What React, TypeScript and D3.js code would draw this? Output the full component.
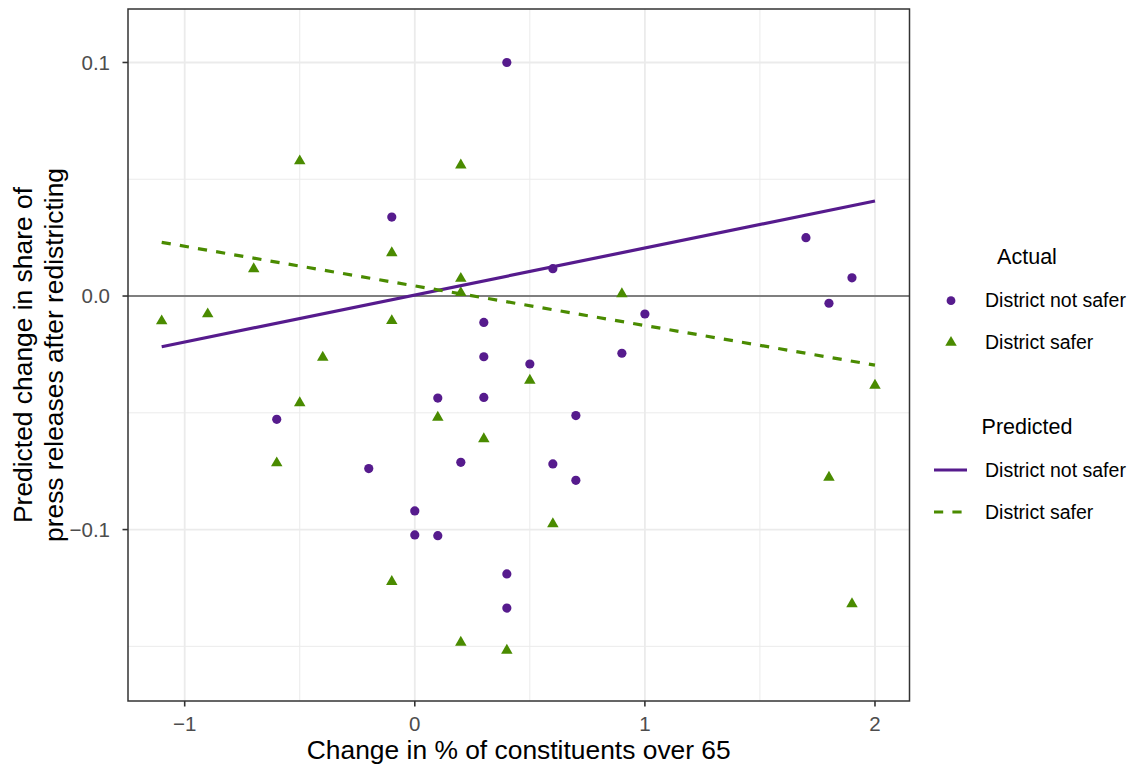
import React from 'react';
import * as d3 from 'd3';

// Observed districts whose seat did not become safer
const notSaferX = [0.4, -0.1, 0.3, 0.3, 0.6, 1.7, 1.9, 1.8, 1.0, 0.9, 0.5, 0.1, 0.3, 0.7, 0.2, 0.6, 0.7, 0.0, 0.0, 0.1, 0.4, 0.4, -0.6, -0.2];
const notSaferY = [0.1, 0.0338, -0.0113, -0.026, 0.0117, 0.025, 0.0078, -0.0031, -0.0077, -0.0245, -0.0291, -0.0437, -0.0434, -0.0512, -0.0712, -0.0719, -0.0789, -0.092, -0.1023, -0.1026, -0.119, -0.1336, -0.0528, -0.0739];

// Observed districts whose seat became safer
const saferX = [-0.5, 0.2, -0.1, -0.7, 0.2, 0.2, -1.1, -0.9, -0.1, -0.4, 0.9, -0.5, -0.6, -0.1, 0.1, 0.3, 0.2, 0.4, 0.5, 0.6, 2.0, 1.8, 1.9];
const saferY = [0.0578, 0.056, 0.0185, 0.0116, 0.0075, 0.0014, -0.0107, -0.0077, -0.0106, -0.0263, 0.0009, -0.0458, -0.0715, -0.1223, -0.052, -0.0612, -0.1483, -0.1517, -0.0361, -0.0976, -0.0383, -0.0777, -0.1318];

// Fitted predictions at the ends of the observed range
const predX = [-1.1, 2.0];
const predNotSaferY = [-0.0217, 0.0407];
const predSaferY = [0.023, -0.0296];

const xTicks = [-1, 0, 1, 2];
const xMinor = [-0.5, 0.5, 1.5];
const yTicks = [-0.1, 0.0, 0.1];
const yMinor = [-0.15, -0.05, 0.05];

const groupLabels = ['District not safer', 'District safer'];

const PURPLE = '#561B8D';
const GREEN = '#4A8B00';
const FONT = '"Liberation Sans", Arial, Helvetica, sans-serif';

const W = 1132;
const H = 771;
const panel = { left: 128, right: 909.5, top: 9, bottom: 701 };

const fmtX = (v: number) => (v < 0 ? '\u2212' + Math.abs(v) : String(v));
const fmtY = (v: number) => (v < 0 ? '\u2212' + Math.abs(v).toFixed(1) : v.toFixed(1));

export default function App() {
  const x = d3.scaleLinear().domain([-1.2464, 2.15]).range([panel.left, panel.right]);
  const y = d3.scaleLinear().domain([-0.1734, 0.1229]).range([panel.bottom, panel.top]);

  const tri = d3.symbol(d3.symbolTriangle, 57)() as string;
  const line = d3
    .line<[number, number]>()
    .x((d) => x(d[0]))
    .y((d) => y(d[1]));

  const notSaferLine = line(predX.map((v, i) => [v, predNotSaferY[i]] as [number, number])) as string;
  const saferLine = line(predX.map((v, i) => [v, predSaferY[i]] as [number, number])) as string;

  const pw = panel.right - panel.left;
  const ph = panel.bottom - panel.top;
  const cx = (panel.left + panel.right) / 2;
  const cy = (panel.top + panel.bottom) / 2;

  const legX = 951;
  const legTextX = 985;

  return (
    <svg
      width={W}
      height={H}
      viewBox={`0 0 ${W} ${H}`}
      style={{ position: 'absolute', left: 0, top: 0, background: '#fff' }}
      fontFamily={FONT}
    >
      <rect x={0} y={0} width={W} height={H} fill="#fff" />
      <defs>
        <clipPath id="panel-clip">
          <rect x={panel.left} y={panel.top} width={pw} height={ph} />
        </clipPath>
      </defs>

      {/* grid */}
      <g stroke="#EBEBEB" fill="none">
        {xMinor.map((v) => (
          <line key={'xm' + v} x1={x(v)} x2={x(v)} y1={panel.top} y2={panel.bottom} strokeWidth={1} />
        ))}
        {yMinor.map((v) => (
          <line key={'ym' + v} x1={panel.left} x2={panel.right} y1={y(v)} y2={y(v)} strokeWidth={1} />
        ))}
        {xTicks.map((v) => (
          <line key={'xM' + v} x1={x(v)} x2={x(v)} y1={panel.top} y2={panel.bottom} strokeWidth={1.8} />
        ))}
        {yTicks.map((v) => (
          <line key={'yM' + v} x1={panel.left} x2={panel.right} y1={y(v)} y2={y(v)} strokeWidth={1.8} />
        ))}
      </g>

      <g clipPath="url(#panel-clip)">
        {/* reference line at zero */}
        <line x1={panel.left} x2={panel.right} y1={y(0)} y2={y(0)} stroke="#7F7F7F" strokeWidth={2} />

        {/* observed points */}
        {notSaferX.map((v, i) => (
          <circle key={'n' + i} cx={x(v)} cy={y(notSaferY[i])} r={4.6} fill={PURPLE} />
        ))}
        {saferX.map((v, i) => (
          <path key={'s' + i} d={tri} transform={`translate(${x(v)},${y(saferY[i])})`} fill={GREEN} />
        ))}

        {/* predicted lines */}
        <path d={notSaferLine} stroke={PURPLE} strokeWidth={3.2} fill="none" />
        <path d={saferLine} stroke={GREEN} strokeWidth={3.2} fill="none" strokeDasharray="9.2 9.2" />
      </g>

      {/* panel border */}
      <rect x={panel.left} y={panel.top} width={pw} height={ph} fill="none" stroke="#333333" strokeWidth={1.5} />

      {/* axes */}
      <g stroke="#333333" strokeWidth={1.6}>
        {xTicks.map((v) => (
          <line key={'xt' + v} x1={x(v)} x2={x(v)} y1={panel.bottom} y2={panel.bottom + 5.5} />
        ))}
        {yTicks.map((v) => (
          <line key={'yt' + v} x1={panel.left - 5.5} x2={panel.left} y1={y(v)} y2={y(v)} />
        ))}
      </g>
      <g fill="#4D4D4D" fontSize={20.5}>
        {xTicks.map((v) => (
          <text key={'xl' + v} x={x(v)} y={731} textAnchor="middle">
            {fmtX(v)}
          </text>
        ))}
        {yTicks.map((v) => (
          <text key={'yl' + v} x={110} y={y(v)} dy="0.36em" textAnchor="end">
            {fmtY(v)}
          </text>
        ))}
      </g>

      {/* axis titles */}
      <text x={cx} y={759} textAnchor="middle" fontSize={26.4} fill="#000">
        Change in % of constituents over 65
      </text>
      <text transform={`translate(31.7,${cy}) rotate(-90)`} textAnchor="middle" fontSize={26.4} fill="#000">
        <tspan x={0} dy={0}>Predicted change in share of</tspan>
        <tspan x={0} dy={31.3}>press releases after redistricting</tspan>
      </text>

      {/* legend: observed */}
      <text x={1027} y={264} textAnchor="middle" fontSize={21.5} fill="#000">
        Actual
      </text>
      <circle cx={legX} cy={300.7} r={4.4} fill={PURPLE} />
      <path d={tri} transform={`translate(${legX},342.5)`} fill={GREEN} />
      <text x={legTextX} y={307.3} fontSize={19.5} fill="#000">
        {groupLabels[0]}
      </text>
      <text x={legTextX} y={349} fontSize={19.5} fill="#000">
        {groupLabels[1]}
      </text>

      {/* legend: predicted */}
      <text x={1027} y={434} textAnchor="middle" fontSize={21.5} fill="#000">
        Predicted
      </text>
      <line x1={934} x2={967} y1={470} y2={470} stroke={PURPLE} strokeWidth={3.2} />
      <line x1={934} x2={967} y1={512} y2={512} stroke={GREEN} strokeWidth={3.2} strokeDasharray="9.2 9.2" />
      <text x={legTextX} y={477.3} fontSize={19.5} fill="#000">
        {groupLabels[0]}
      </text>
      <text x={legTextX} y={518.5} fontSize={19.5} fill="#000">
        {groupLabels[1]}
      </text>
    </svg>
  );
}
